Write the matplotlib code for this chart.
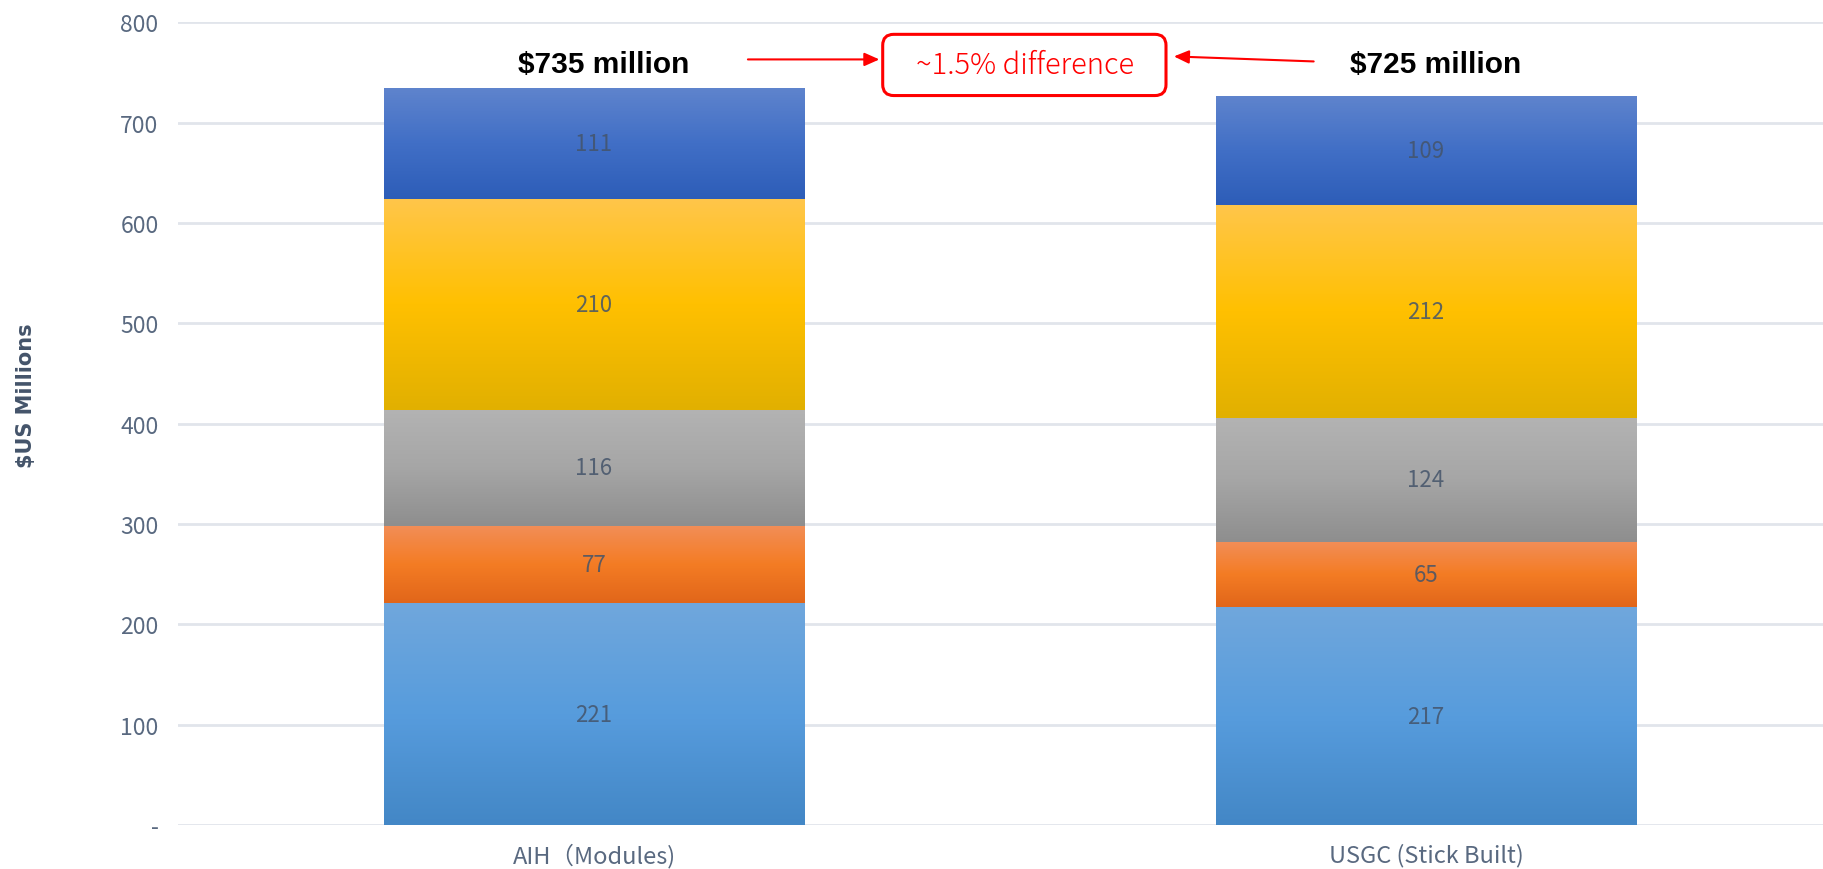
import numpy as np
import matplotlib
matplotlib.use("Agg")
import matplotlib.pyplot as plt
from matplotlib.colors import LinearSegmentedColormap
from matplotlib.patches import FancyBboxPatch
from matplotlib.transforms import IdentityTransform
from matplotlib import font_manager

categories = ["AIH（Modules)", "USGC (Stick Built)"]
series_names = ["S1", "S2", "S3", "S4", "S5"]
aih_values = [221, 77, 116, 210, 111]
usgc_values = [217, 65, 124, 212, 109]
total_labels = ["$735 million", "$725 million"]
diff_label = "~1.5% difference"
yticks = [0, 100, 200, 300, 400, 500, 600, 700, 800]
ytick_labels = ["-", "100", "200", "300", "400", "500", "600", "700", "800"]

# gradient stops: top, middle, bottom
grad_colors = [
    ["#70A7DC", "#579CDD", "#4387C6"],
    ["#F28E58", "#F47C24", "#E1661A"],
    ["#B3B3B3", "#A6A6A6", "#8E8E8E"],
    ["#FFC64A", "#FFC000", "#E1B000"],
    ["#5F84CD", "#416FC6", "#2D5DB8"],
]

names = {f.name for f in font_manager.fontManager.ttflist}
cond = [n for n in ["Liberation Sans Narrow", "DejaVu Sans Condensed"] if n in names]

plt.rcParams['font.family'] = ['Noto Sans CJK JP', 'DejaVu Sans']
fig = plt.figure(figsize=(18.24, 8.70), dpi=100)
ax = fig.add_axes([178/1824, 44/870, 1664/1824, (826-23.3)/870])
ax.set_xlim(-0.5, 1.5)
ax.set_ylim(0, 800)

data = np.array([aih_values, usgc_values])
x = np.arange(len(categories))
bottom = np.zeros(len(categories))
width = 0.506
label_color = "#44546A"
for i in range(len(series_names)):
    vals = data[:, i]
    bars = ax.bar(x, vals, width, bottom=bottom, color="none", edgecolor="none", zorder=3)
    cmap = LinearSegmentedColormap.from_list(f"g{i}", grad_colors[i][::-1])
    grad = np.linspace(0, 1, 256).reshape(-1, 1)
    for b in bars:
        x0, y0 = b.get_x(), b.get_y()
        w, h = b.get_width(), b.get_height()
        im = ax.imshow(grad, cmap=cmap, aspect="auto", origin="lower",
                       extent=[x0, x0 + w, y0, y0 + h], zorder=2, interpolation="bilinear")
        im.set_clip_path(b)
    for xi, v, bt in zip(x, vals, bottom):
        ax.text(xi, bt + v / 2, f"{v}", ha="center", va="center", fontsize=16,
                color=label_color, alpha=0.85, zorder=5)
    bottom = bottom + vals

ax.set_xlim(-0.5, 1.5)
ax.set_ylim(0, 800)

ax.set_yticks(yticks)
ax.set_yticklabels(ytick_labels)
ax.set_xticks(x)
ax.set_xticklabels(categories)
ax.tick_params(axis="both", length=0, labelcolor="#596980")
ax.tick_params(axis="y", pad=14, labelsize=16.5)
ax.tick_params(axis="x", pad=13, labelsize=17)
for s in ax.spines.values():
    s.set_visible(False)
ax.grid(axis="y", color="#E1E5EB", linewidth=2, zorder=0)
ax.set_axisbelow(True)

fig.text(26/1824, 1 - 396/870, "$US Millions", rotation=90, ha="center", va="center",
         fontsize=15, fontweight="bold", color="#44546A", family=['DejaVu Sans'])

# totals
if cond:
    tfam, tsize = cond + ['Liberation Sans'], 23
else:
    tfam, tsize = ['Liberation Sans', 'DejaVu Sans'], 21.5
for xi, t in zip(x, total_labels):
    ax.text(xi + 0.012, 758, t, ha="center", va="center", fontsize=tsize, fontweight="bold",
            color="black", family=tfam)

# difference box (drawn in display pixels so the corners are round)
(px0, py0) = ax.transData.transform((0.347, 727))
(px1, py1) = ax.transData.transform((0.6875, 788))
box = FancyBboxPatch((px0, py0), px1 - px0, py1 - py0,
                     boxstyle="round,pad=0,rounding_size=11",
                     fc="white", ec="#FF0000", lw=2.2, zorder=6, clip_on=False,
                     transform=IdentityTransform())
ax.add_artist(box)
ax.text(0.518, 757.5, diff_label, ha="center", va="center", fontsize=21, color="#FF0000",
        zorder=7, fontweight="light")

ax.annotate("", xy=(0.343, 763), xytext=(0.185, 763),
            arrowprops=dict(arrowstyle="-|>,head_length=0.9,head_width=0.4", color="#FF0000", lw=1.5,
                            shrinkA=0, shrinkB=0), annotation_clip=False)
ax.annotate("", xy=(0.697, 766), xytext=(0.865, 761),
            arrowprops=dict(arrowstyle="-|>,head_length=0.9,head_width=0.4", color="#FF0000", lw=1.5,
                            shrinkA=0, shrinkB=0), annotation_clip=False)

fig.savefig("out.png", dpi=100, facecolor="white")
